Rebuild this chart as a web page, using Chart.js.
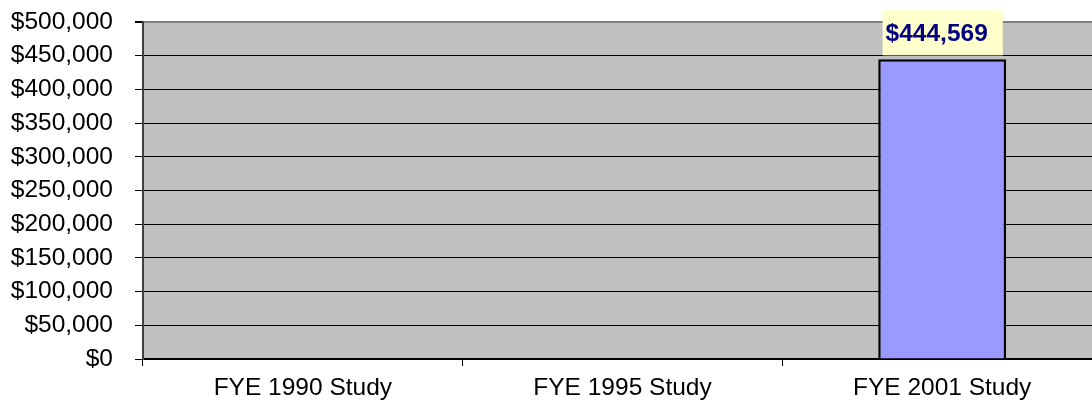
<!DOCTYPE html>
<html>
<head>
<meta charset="utf-8">
<script src="https://cdn.jsdelivr.net/npm/chart.js@4"></script>
<style>
  html, body { margin: 0; background: #fff; overflow: hidden; }
  canvas { display: block; }
</style>
</head>
<body>
<canvas id="myChart" width="1102" height="407"></canvas>
<script>
const categories = ['FYE 1990 Study', 'FYE 1995 Study', 'FYE 2001 Study'];
const costs = [null, null, 444569];
const yTicks = [0, 50000, 100000, 150000, 200000, 250000, 300000, 350000, 400000, 450000, 500000];

const fmt = v => '$' + v.toLocaleString('en-US');

// grey plot background + yellow value labels
const plotBg = {
    id: 'plotBg',
    beforeDraw(chart) {
        const { ctx, chartArea: a } = chart;
        ctx.save();
        ctx.fillStyle = '#C0C0C0';
        ctx.fillRect(a.left, a.top, a.right - a.left, a.bottom - a.top);
        ctx.restore();
    },
    afterDatasetsDraw(chart) {
        const { ctx } = chart;
        const meta = chart.getDatasetMeta(0);
        ctx.save();
        ctx.font = 'bold 24.5px "Liberation Sans", Arial, sans-serif';
        meta.data.forEach((bar, i) => {
            const v = costs[i];
            if (v == null) return;
            const text = fmt(v);
            const w = ctx.measureText(text).width;
            const tx = bar.x - w / 2 - 5.5;
            ctx.fillStyle = '#FFFFCC';
            ctx.fillRect(tx - 3, bar.y - 49, w + 18, 45);
            ctx.fillStyle = '#000080';
            ctx.textBaseline = 'alphabetic';
            ctx.fillText(text, tx, bar.y - 18);
        });
        ctx.restore();
    }
};

const ctx = document.getElementById('myChart').getContext('2d');
const chart = new Chart(ctx, {
    type: 'bar',
    data: {
        labels: categories,
        datasets: [{
            data: costs,
            backgroundColor: '#9999FF',
            borderColor: '#000000',
            borderWidth: 2.5,
            barPercentage: 0.4,
            categoryPercentage: 1
        }]
    },
    options: {
        responsive: false,
        animation: false,
        layout: { padding: { top: 22, right: 0, left: 0, bottom: 0 } },
        plugins: {
            legend: { display: false },
            tooltip: { enabled: false }
        },
        scales: {
            x: {
                offset: true,
                grid: {
                    offset: true,
                    drawOnChartArea: false,
                    tickLength: 7,
                    color: '#000'
                },
                border: { color: '#000', width: 2 },
                ticks: {
                    color: '#000',
                    padding: 8,
                    font: { family: '"Liberation Sans", Arial, sans-serif', size: 24.5 }
                },
                afterFit: s => { s.height = 48; s.paddingLeft = 0; s.paddingRight = 0; }
            },
            y: {
                min: 0,
                max: 500000,
                afterBuildTicks: s => { s.ticks = yTicks.map(v => ({ value: v })); },
                grid: {
                    color: c => (c.tick && c.tick.value === 500000) ? '#808080' : '#000',
                    lineWidth: c => (c.tick && c.tick.value === 500000) ? 2 : 1,
                    tickLength: 8,
                    tickColor: '#000'
                },
                border: { color: '#404040', width: 2 },
                ticks: {
                    color: '#000',
                    padding: 22,
                    autoSkip: false,
                    callback: v => fmt(v),
                    font: { family: '"Liberation Sans", Arial, sans-serif', size: 24.5 }
                },
                afterFit: s => { s.width = 143; s.paddingTop = 0; s.paddingBottom = 0; }
            }
        }
    },
    plugins: [plotBg]
});
</script>
</body>
</html>
